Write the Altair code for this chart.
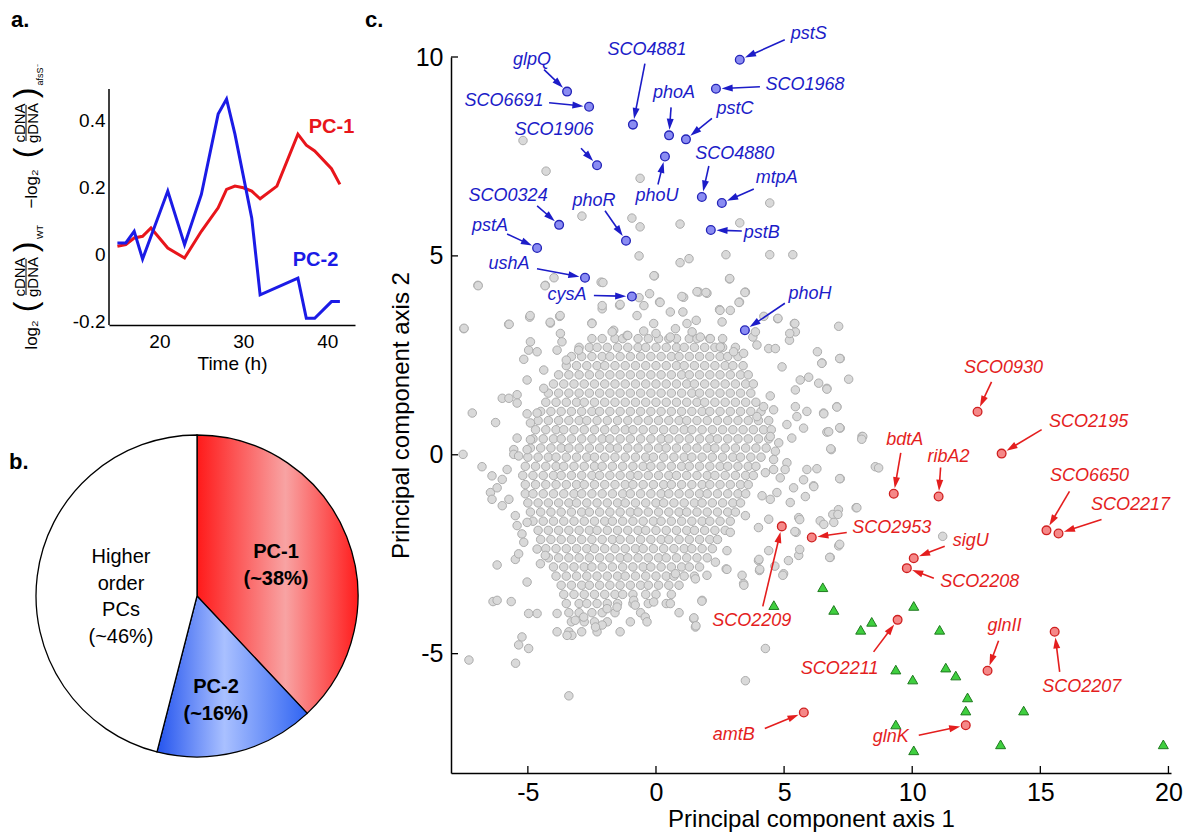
import math
import altair as alt
import pandas as pd

FONT = "Liberation Sans"

# ====================== DATA ======================
# ---- panel a : PC time courses ----
a_time_pc1 = [15, 16, 17, 18, 19, 21, 23, 25, 27, 28, 29, 30, 31, 32, 34, 36.5, 37.5, 38.5, 40.5, 41.5]
a_val_pc1 = [0.025, 0.03, 0.05, 0.055, 0.08, 0.02, -0.01, 0.07, 0.14, 0.195, 0.205, 0.2, 0.19, 0.167,
             0.205, 0.36, 0.327, 0.31, 0.257, 0.21]
a_time_pc2 = [15, 16, 17, 18, 21, 23, 25, 27, 28, 29, 31, 32, 36.5, 37.5, 38.5, 40.5, 41.5]
a_val_pc2 = [0.035, 0.035, 0.07, -0.013, 0.19, 0.03, 0.18, 0.42, 0.465, 0.36, 0.11, -0.12, -0.07,
             -0.19, -0.19, -0.14, -0.14]
a_xticks = [20, 30, 40]
a_yticks = [-0.2, 0, 0.2, 0.4]
a_series_labels = ["PC-1", "PC-2"]
a_label_t = [40.5, 38.6]
a_label_v = [0.382, -0.015]

# ---- panel b : variance explained ----
b_names = ["PC-1", "PC-2", "Higher order PCs"]
b_pct = [38, 16, 46]
b_text = ["PC-1\n(~38%)", "PC-2\n(~16%)", "Higher\norder\nPCs\n(~46%)"]

# ---- panel c : PCA scatter ----
blue_genes = ["pstS", "SCO1968", "glpQ", "SCO6691", "SCO4881", "phoA", "pstC", "SCO1906", "phoU",
              "SCO4880", "mtpA", "SCO0324", "phoR", "pstB", "pstA", "ushA", "cysA", "phoH"]
blue_x = [3.27, 2.34, -3.47, -2.61, -0.90, 0.51, 1.17, -2.30, 0.35, 1.79, 2.57, -3.78, -1.17, 2.14,
          -4.64, -2.77, -0.94, 3.47]
blue_y = [9.93, 9.20, 9.13, 8.75, 8.30, 8.03, 7.93, 7.28, 7.50, 6.48, 6.33, 5.78, 5.38, 5.65, 5.20,
          4.45, 3.98, 3.13]

red_genes = ["SCO0930", "SCO2195", "bdtA", "ribA2", "SCO6650", "SCO2217", "SCO2209", "SCO2953",
             "sigU", "SCO2208", "SCO2211", "glnII", "SCO2207", "amtB", "glnK"]
red_x = [12.55, 13.49, 9.28, 11.03, 15.24, 15.71, 4.91, 6.08, 10.06, 9.79, 9.43, 12.94, 15.56, 5.77, 12.09]
red_y = [1.08, 0.03, -0.98, -1.05, -1.90, -1.98, -1.80, -2.08, -2.60, -2.85, -4.15, -5.43, -4.45,
         -6.48, -6.80]

green_x = [4.60, 6.51, 6.94, 7.99, 8.42, 10.06, 11.07, 9.36, 10.02, 11.31, 11.70, 12.16, 12.09,
           14.35, 9.36, 10.06, 13.45, 19.80]
green_y = [-3.78, -3.33, -3.90, -4.40, -4.20, -3.80, -4.40, -5.40, -5.65, -5.35, -5.55, -6.10, -6.43,
           -6.43, -6.78, -7.43, -7.28, -7.28]

# dense core of the gray cloud, estimated row by row (y, list of x)
gray_core_rows = [
    (2.92, [-2.5, -2.1, -1.6, -1.3, -0.7, -0.3, 0.1, 0.5, 0.8, 1.3, 1.6, 2.1, 2.6]),
    (2.70, [-3.0, -2.6, -2.3, -1.9, -1.5, -1.1, -0.7, -0.4, 0.0, 0.4, 0.8, 1.1, 1.5, 1.9, 2.3, 2.6, 3.1]),
    (2.47, [-3.3, -2.9, -2.5, -2.1, -1.8, -1.4, -1.0, -0.6, -0.2, 0.2, 0.6, 0.9, 1.3, 1.7, 2.1, 2.5, 2.8, 3.2]),
    (2.24, [-3.5, -3.1, -2.7, -2.3, -2.0, -1.6, -1.2, -0.8, -0.4, 0.0, 0.4, 0.8, 1.1, 1.5, 1.9, 2.3, 2.7, 3.0, 3.4]),
    (2.01, [-3.8, -3.4, -3.0, -2.6, -2.2, -1.8, -1.4, -1.0, -0.6, -0.2, 0.2, 0.6, 1.0, 1.3, 1.7, 2.1, 2.5, 2.9, 3.3, 3.6]),
    (1.78, [-4.0, -3.6, -3.2, -2.8, -2.4, -2.0, -1.6, -1.2, -0.8, -0.4, 0.0, 0.4, 0.8, 1.2, 1.5, 1.9, 2.3, 2.7, 3.1, 3.5, 3.8]),
    (1.55, [-4.2, -3.8, -3.4, -3.0, -2.6, -2.2, -1.8, -1.4, -1.0, -0.6, -0.2, 0.2, 0.6, 1.0, 1.4, 1.7, 2.1, 2.5, 2.9, 3.3, 3.7]),
    (1.32, [-4.3, -3.9, -3.5, -3.1, -2.8, -2.4, -2.0, -1.6, -1.2, -0.8, -0.4, 0.0, 0.4, 0.8, 1.2, 1.6, 1.9, 2.3, 2.7, 3.1, 3.5, 3.9]),
    (1.09, [-4.5, -4.1, -3.7, -3.3, -2.9, -2.5, -2.2, -1.8, -1.4, -1.0, -0.6, -0.2, 0.2, 0.6, 1.0, 1.4, 1.8, 2.1, 2.5, 2.9, 3.3, 3.7, 4.1]),
    (0.86, [-4.6, -4.2, -3.8, -3.4, -3.0, -2.7, -2.3, -1.9, -1.5, -1.1, -0.7, -0.3, 0.1, 0.5, 0.9, 1.2, 1.6, 2.0, 2.4, 2.8, 3.2, 3.6, 4.0, 4.4]),
    (0.63, [-4.7, -4.3, -3.9, -3.6, -3.2, -2.8, -2.4, -2.0, -1.6, -1.2, -0.9, -0.5, -0.1, 0.3, 0.7, 1.1, 1.4, 1.8, 2.2, 2.6, 3.0, 3.4, 3.8, 4.2, 4.5]),
    (0.40, [-4.8, -4.4, -4.0, -3.7, -3.3, -2.9, -2.5, -2.1, -1.8, -1.4, -1.0, -0.6, -0.2, 0.2, 0.5, 0.9, 1.3, 1.7, 2.1, 2.4, 2.8, 3.2, 3.6, 4.0, 4.4]),
    (0.17, [-4.9, -4.5, -4.1, -3.7, -3.4, -3.0, -2.6, -2.2, -1.8, -1.5, -1.1, -0.7, -0.3, 0.1, 0.4, 0.8, 1.2, 1.6, 2.0, 2.3, 2.7, 3.1, 3.5, 3.9, 4.3]),
    (-0.06, [-5.0, -4.6, -4.2, -3.9, -3.5, -3.1, -2.7, -2.4, -2.0, -1.6, -1.2, -0.8, -0.4, -0.1, 0.3, 0.7, 1.1, 1.4, 1.8, 2.2, 2.6, 3.0, 3.3, 3.7, 4.1]),
    (-0.29, [-5.1, -4.7, -4.3, -3.9, -3.6, -3.2, -2.8, -2.4, -2.1, -1.7, -1.3, -0.9, -0.5, -0.2, 0.2, 0.6, 1.0, 1.3, 1.7, 2.1, 2.5, 2.8, 3.2, 3.6, 3.9]),
    (-0.52, [-5.2, -4.8, -4.4, -4.0, -3.7, -3.3, -2.9, -2.5, -2.2, -1.8, -1.4, -1.0, -0.7, -0.3, 0.1, 0.5, 0.8, 1.2, 1.6, 2.0, 2.3, 2.7, 3.1, 3.5, 3.8]),
    (-0.75, [-5.1, -4.7, -4.3, -3.9, -3.5, -3.1, -2.8, -2.4, -2.0, -1.6, -1.2, -0.9, -0.5, -0.1, 0.3, 0.6, 1.0, 1.4, 1.8, 2.1, 2.5, 2.9, 3.3, 3.6]),
    (-0.98, [-5.1, -4.8, -4.4, -4.0, -3.6, -3.2, -2.9, -2.5, -2.1, -1.7, -1.3, -1.0, -0.6, -0.2, 0.2, 0.5, 0.9, 1.3, 1.7, 2.0, 2.4, 2.8, 3.2, 3.5]),
    (-1.21, [-5.0, -4.6, -4.2, -3.8, -3.4, -3.1, -2.7, -2.3, -1.9, -1.5, -1.2, -0.8, -0.4, 0.0, 0.3, 0.7, 1.1, 1.5, 1.8, 2.2, 2.6, 3.0, 3.3]),
    (-1.44, [-4.9, -4.5, -4.1, -3.7, -3.3, -2.9, -2.6, -2.2, -1.8, -1.4, -1.0, -0.7, -0.3, 0.1, 0.5, 0.9, 1.2, 1.6, 2.0, 2.4, 2.8, 3.1]),
    (-1.67, [-4.8, -4.4, -4.0, -3.6, -3.2, -2.8, -2.4, -2.0, -1.7, -1.3, -0.9, -0.5, -0.1, 0.2, 0.6, 1.0, 1.4, 1.8, 2.1, 2.5, 2.9]),
    (-1.90, [-4.6, -4.2, -3.8, -3.4, -3.0, -2.6, -2.3, -1.9, -1.5, -1.1, -0.7, -0.4, 0.0, 0.4, 0.8, 1.2, 1.5, 1.9, 2.3, 2.7]),
    (-2.13, [-4.5, -4.1, -3.7, -3.3, -2.9, -2.5, -2.1, -1.7, -1.4, -1.0, -0.6, -0.2, 0.2, 0.5, 0.9, 1.3, 1.7, 2.1, 2.4]),
    (-2.36, [-4.3, -3.9, -3.5, -3.1, -2.7, -2.4, -2.0, -1.6, -1.2, -0.8, -0.5, -0.1, 0.3, 0.7, 1.1, 1.4, 1.8, 2.2]),
    (-2.59, [-4.2, -3.8, -3.4, -3.0, -2.6, -2.2, -1.8, -1.4, -1.1, -0.7, -0.3, 0.1, 0.4, 0.8, 1.2, 1.6, 2.0]),
    (-2.82, [-4.0, -3.6, -3.2, -2.8, -2.5, -2.1, -1.7, -1.3, -0.9, -0.5, -0.2, 0.2, 0.6, 1.0, 1.3, 1.7]),
    (-3.05, [-3.9, -3.5, -3.1, -2.7, -2.3, -1.9, -1.5, -1.2, -0.8, -0.4, 0.0, 0.4, 0.7, 1.1, 1.5]),
    (-3.28, [-3.7, -3.3, -2.9, -2.6, -2.2, -1.8, -1.4, -1.0, -0.6, -0.3, 0.1, 0.5, 0.9]),
    (-3.51, [-3.6, -3.2, -2.8, -2.4, -2.0, -1.6, -1.3, -0.9, -0.4, 0.0, 0.6]),
    (-3.74, [-3.5, -3.0, -2.7, -2.3, -1.9, -1.5, -0.9, -0.3, 0.4]),
    (-3.97, [-3.4, -3.0, -2.5, -2.1, -1.6, -0.6, 0.9]),
    (-4.20, [-3.3, -2.8, -2.4, -1.9, -1.0]),
    (-4.45, [-3.4, -2.9, -2.3, -1.4]),
]

# scattered halo of the gray cloud (x, y)
gray_halo = [
    (-6.95, 4.26), (-7.5, 3.17), (-5.75, 3.28), (-4.93, 3.46), (-4.12, 3.31), (-3.76, 3.48), (-4.32, 4.26),
    (-2.5, 3.31), (-2.14, 4.34), (-2.1, 3.67), (-1.65, 3.13), (-1.42, 3.76), (-0.74, 3.5), (-1.13, 3.0),
    (-0.25, 4.05), (0.14, 3.84), (0.56, 3.59), (-0.06, 4.5), (1.08, 3.96), (1.05, 3.59), (1.67, 4.09),
    (1.99, 4.06), (1.57, 3.38), (2.48, 3.65), (2.9, 3.63), (3.26, 3.84), (3.49, 4.09), (2.87, 4.42),
    (2.58, 3.34), (3.94, 2.76), (4.4, 2.67), (4.75, 3.42), (5.4, 3.3), (5.21, 2.88), (5.44, 3.09),
    (6.3, 2.59), (7.13, 3.23), (7.19, 2.42), (6.48, 2.31), (4.92, 2.21), (4.46, 1.48), (5.44, 1.63),
    (5.63, 1.88), (5.96, 1.95), (6.35, 1.8), (6.67, 1.67), (7.52, 1.9), (5.44, 1.21), (5.89, 1.09),
    (5.5, 0.96), (6.54, 1.05), (7.06, 1.21), (5.11, 0.76), (5.76, 0.67), (6.67, 0.57), (7.19, 0.67),
    (8.04, 0.46), (6.84, 0.13), (5.3, 0.42), (4.79, 0.3), (5.11, -0.2), (5.89, -0.37), (6.28, -0.35),
    (5.76, -0.63), (6.15, -0.78), (7.19, -0.6), (8.56, -0.3), (5.37, -0.83), (5.83, -1.05), (5.24, -1.2),
    (4.72, -0.95), (4.46, -1.12), (4.14, -1.03), (7.81, -1.33), (7.12, -1.38), (6.9, -1.5), (5.57, -1.58),
    (6.41, -1.66), (4.4, -1.62), (4.0, -1.83), (3.49, -1.53), (2.9, -1.95), (5.47, -1.95), (7.13, -2.29),
    (6.8, -2.58), (5.57, -2.53), (5.17, -2.66), (4.98, -2.99), (4.4, -2.41), (4.0, -2.66), (4.04, -2.91),
    (3.36, -3.03), (3.42, -3.24), (2.77, -2.41), (2.74, -2.87), (2.32, -2.7), (1.99, -3.03), (1.54, -3.12),
    (1.8, -3.66), (0.76, -2.99), (0.56, -3.74), (-0.09, -3.7), (-0.42, -4.08), (-0.35, -4.2), (1.47, -4.12),
    (1.54, -4.33), (-0.87, -3.66), (-0.81, -3.78), (-1.52, -3.83), (-1.91, -3.87), (-2.1, -4.28),
    (-2.36, -4.33), (-2.82, -4.08), (-3.15, -4.16), (-3.28, -4.54), (-3.47, -4.54), (-3.86, -4.45),
    (-3.86, -3.99), (-4.64, -3.99), (-4.97, -3.99), (-5.23, -4.58), (-5.36, -4.78), (-4.97, -4.87),
    (-5.48, -5.24), (-5.65, -3.69), (-6.36, -3.69), (-6.2, -3.66), (-7.3, -5.16), (-3.4, -6.06),
    (4.27, -4.87), (3.49, -5.68), (-5.03, -3.2), (-6.2, -2.77), (-5.49, -2.63), (-5.36, -2.49),
    (-4.64, -2.37), (-4.32, -2.53), (-4.51, -2.74), (-5.23, -1.99), (-5.16, -2.2), (-5.49, -1.53),
    (-5.03, -1.7), (-5.42, -1.78), (-6.0, -1.28), (-5.74, -1.12), (-6.46, -0.95), (-6.4, -1.12),
    (-6.2, -0.83), (-6.0, -0.62), (-6.4, -0.53), (-5.81, -0.37), (-6.79, -0.3), (-7.53, 0.01),
    (-5.55, 0.13), (-5.55, 0.01), (-5.36, -0.03), (-5.03, 0.13), (-4.9, 0.38), (-5.42, 0.42),
    (-6.26, 0.81), (-7.17, 1.05), (-5.03, 1.03), (-4.64, 1.05), (-4.9, 0.8), (-6.0, 1.42), (-5.74, 1.42),
    (-5.42, 1.51), (-5.42, 1.3), (-5.03, 1.88), (-4.38, 2.13), (-4.38, 1.67), (-5.16, 2.4), (-4.97, 2.63),
    (-4.64, 2.59), (-4.9, 2.84), (-3.86, 2.63), (-3.5, 2.38), (-3.73, 3.05), (-3.67, 2.84), (-3.02, 2.63),
    (-1.71, 3.09), (-1.1, 3.0), (-0.48, 3.11), (-0.09, 3.3), (0.0, 3.05), (0.56, 2.96), (0.76, 3.17),
    (1.21, 3.3), (1.41, 3.09), (1.73, 2.96), (2.12, 2.92), (2.51, 2.71), (3.03, 2.59), (3.42, 2.55),
    (3.78, 2.96), (3.88, 3.09), (4.66, 2.67), (4.2, 1.21), (3.94, 0.96), (4.59, 1.13), (4.46, 0.46),
    (4.66, 0.09), (4.59, -0.37), (4.27, -0.45), (4.85, -0.58), (4.59, -0.12), (5.04, -0.37),
    (-5.19, 7.9), (-4.29, 7.13), (-0.62, 6.95), (-2.89, 6.0), (-0.94, 5.95), (-0.62, 5.73), (0.94, 5.8),
    (3.27, 5.83), (4.44, 6.33), (-0.66, 5.0), (0.94, 4.83), (1.29, 4.93), (2.73, 5.03), (4.44, 5.03),
    (5.34, 5.03), (2.88, 4.43), (-0.08, 4.5), (-3.98, 4.45), (-4.33, 4.25), (-6.94, 4.25), (-7.49, 3.18),
    (-5.73, 3.28), (-4.91, 3.5), (-4.13, 3.33), (-3.74, 3.5), (-2.5, 3.3), (-2.07, 4.33), (-2.1, 3.75),
    (-1.4, 3.78), (-0.66, 3.95), (-0.47, 3.75), (0.16, 3.83), (1.01, 3.98), (1.6, 4.1), (1.95, 4.08),
    (3.47, 4.08), (3.24, 3.83), (2.5, 3.63), (4.21, 3.48), (4.76, 3.43), (5.42, 3.3), (5.22, 3.05),
    (7.17, 2.42), (6.47, 2.3), (6.67, 1.65), (7.06, 1.2), (6.55, 1.03), (7.17, 0.68), (6.74, 0.58),
    (8.07, 0.46), (8.03, 0.39), (6.82, 0.15), (8.69, -0.33), (7.17, -0.6), (6.16, -0.8), (7.84, -1.33),
    (7.1, -1.5), (6.94, -1.7), (7.17, -2.25), (6.78, -2.58), (11.19, -2.05), (5.61, -2.38), (4.95, -3.03),
    (3.43, -3.28), (1.79, -3.68), (1.48, -4.1), (1.56, -4.3), (4.05, -2.88), (4.64, -2.8), (4.02, -2.63),
    (2.77, -2.88), (5.61, -1.63), (5.42, -1.93), (6.55, -1.75),
]

c_xticks = [-5, 0, 5, 10, 15, 20]
c_yticks = [-5, 0, 5, 10]

# ====================== LAYOUT / STYLE ======================
RED_L, BLUE_L = "#e8151b", "#1b1be6"
BLUE_T, RED_T = "#1c1cc8", "#e41e1e"

# label / arrow-tail offsets in pixels relative to each highlighted point
blue_label_off = [(69, -26), (89, -4), (-35, -32), (-85, -6), (14, -75), (5, -42), (49, -30), (-43, -35),
                  (-8, 40), (33, -43), (55, -25), (-51, -29), (-32, -40), (51, 3), (-47, -22), (-76, -14),
                  (-65, -1), (65, -36)]
blue_tail_off = [(45, -20), (44, -2), (-23, -22), (-40, -4), (12, -61), (2, -28), (26, -21), (-16, -17),
                 (-7, 28), (7, -31), (32, -14), (-22, -19), (-21, -30), (31, 1), (-30, -14), (-48, -9),
                 (-38, -1), (40, -27)]
red_label_off = [(26, -44), (87, -32), (11, -54), (10, -40), (43, -54), (72, -29), (-30, 95), (80, -10),
                 (57, -17), (73, 14), (-58, 49), (17, -45), (27, 55), (-70, 22), (-75, 12)]
red_tail_off = [(14, -30), (40, -24), (7, -41), (2, -29), (23, -39), (43, -14), (-19, 80), (35, -5),
                (31, -12), (27, 10), (-24, 32), (11, -30), (5, 40), (-39, 16), (-47, 10)]

# ====================== PANEL A (+ pie of panel b inside the same view) ======================
A_W = 246
A_PLOT_H = 236          # height of the line-plot area
A_TOP = 32              # empty band above it so the view top lines up with panel c
A_H = A_PLOT_H + A_TOP
Y_LO, Y_HI = -0.21, 0.495
Y_TOP = Y_HI + A_TOP * (Y_HI - Y_LO) / A_PLOT_H
a_xs = alt.Scale(domain=[14, 43.3], nice=False, zero=False)
a_ys = alt.Scale(domain=[Y_LO, Y_TOP], nice=False, zero=False)
a_xaxis = alt.Axis(
    values=a_xticks, title="Time (h)", labelFontSize=19, titleFontSize=19, titleFontWeight="normal",
    ticks=False, tickSize=0, labelPadding=7, titlePadding=3, domainColor="black", domainWidth=1.5,
    labelColor="black", titleColor="black", grid=False, labelFont=FONT, titleFont=FONT)
a_yaxis = alt.Axis(
    values=a_yticks, title="", labelFontSize=19, ticks=False, tickSize=0, labelPadding=4,
    domain=False, labelColor="black", grid=False, labelFont=FONT,
    labelExpr="datum.value == 0 ? '0' : replace(format(datum.value, '.1f'), '\u2212', '-')")


def AX(f):
    return alt.X(f, type="quantitative", scale=a_xs, axis=a_xaxis)


def AY(f):
    return alt.Y(f, type="quantitative", scale=a_ys, axis=a_yaxis)


a_layers = []
# y axis line of panel a (only over the plotted range)
a_layers.append(
    alt.Chart(pd.DataFrame({"lo": [Y_LO], "hi": [Y_HI]})).mark_rule(color="black", strokeWidth=1.5).encode(
        x=alt.value(0), y=AY("lo"), y2="hi:Q")
)
for name, tt, vv, col in [("PC-1", a_time_pc1, a_val_pc1, RED_L), ("PC-2", a_time_pc2, a_val_pc2, BLUE_L)]:
    a_layers.append(
        alt.Chart(pd.DataFrame({"t": tt, "v": vv})).mark_line(strokeWidth=3, color=col).encode(
            x=AX("t"), y=AY("v"))
    )
for name, t0, v0, col in zip(a_series_labels, a_label_t, a_label_v, [RED_L, BLUE_L]):
    a_layers.append(
        alt.Chart(pd.DataFrame({"s": [name], "t": [t0], "v": [v0]})).mark_text(
            fontSize=20, fontWeight="bold", font=FONT, color=col
        ).encode(x=AX("t"), y=AY("v"), text="s:N")
    )

# rotated composite y-axis title (text, x, y, font size), pixels relative to the line-plot top-left
a_title_parts = [
    ("log\u2082", -77, 246, 17), ("(", -83, 218, 32), ("cDNA", -89, 188, 15), ("gDNA", -76, 188, 15),
    (")", -83, 158, 32), ("WT", -69, 143, 9), ("\u2212log\u2082", -77, 100, 17), ("(", -83, 64, 32),
    ("cDNA", -89, 34, 15), ("gDNA", -76, 34, 15), (")", -83, 4, 32), ("afsS\u207b", -69, -14, 9),
]
for txt, px, py, fs in a_title_parts:
    a_layers.append(
        alt.Chart(pd.DataFrame({"t": [txt]})).mark_text(
            angle=270, fontSize=fs, font=FONT, color="black", align="center", baseline="middle",
            fontWeight=300 if txt in ("(", ")") else "normal"
        ).encode(x=alt.value(px), y=alt.value(py + A_TOP), text="t:N")
    )
for y1, y2 in [(170, 206), (16, 52)]:
    a_layers.append(
        alt.Chart(pd.DataFrame({"k": [0]})).mark_rule(color="black", strokeWidth=1).encode(
            x=alt.value(-83), y=alt.value(y1 + A_TOP), y2=alt.value(y2 + A_TOP))
    )

# ---- pie (panel b) ----
R = 161
PIE_CX, PIE_CY = 88, 539          # pie centre, pixels relative to the view's top-left
b_df = pd.DataFrame({"name": b_names, "pct": b_pct, "ord": [0, 1, 2]})
b_base = alt.Chart(b_df).transform_stack(
    stack="pct", as_=["s0", "s1"], groupby=[], sort=[alt.SortField("ord", order="ascending")]
)
theta_sc = alt.Scale(domain=[0, 100])
red_grad = alt.LinearGradient(
    gradient="linear", x1=0, x2=1, y1=0, y2=0,
    stops=[alt.GradientStop(color="#ff1a1a", offset=0), alt.GradientStop(color="#f8a3a3", offset=0.55),
           alt.GradientStop(color="#ff1c1c", offset=1)])
blue_grad = alt.LinearGradient(
    gradient="linear", x1=0, x2=1, y1=0, y2=0,
    stops=[alt.GradientStop(color="#2454ee", offset=0), alt.GradientStop(color="#a9c0ff", offset=0.45),
           alt.GradientStop(color="#3064f2", offset=1)])
fills = {"PC-1": red_grad, "PC-2": blue_grad, "Higher order PCs": "#ffffff"}
for nm in b_names:
    a_layers.append(
        b_base.transform_filter(alt.datum.name == nm).mark_arc(
            outerRadius=R, stroke="black", strokeWidth=1.3, fill=fills[nm]
        ).encode(theta=alt.Theta("s0:Q", scale=theta_sc), theta2=alt.Theta2("s1:Q"),
                 x=alt.value(PIE_CX), y=alt.value(PIE_CY))
    )
# pie labels: first-line position (x, y) and weight
pie_label_pos = [(167, 495, True), (107, 630, True), (12, 500, False)]
for txt, (px, py, bold) in zip(b_text, pie_label_pos):
    a_layers.append(
        alt.Chart(pd.DataFrame({"t": [txt]})).mark_text(
            fontSize=20, font=FONT, fontWeight="bold" if bold else "normal", lineBreak="\n",
            lineHeight=26.5, color="black", align="center", baseline="middle"
        ).encode(x=alt.value(px), y=alt.value(py), text="t:N")
    )
# panel letters a. and b.
for txt, px, py in [("a.", -98, -30), ("b.", -100, 412)]:
    a_layers.append(
        alt.Chart(pd.DataFrame({"t": [txt]})).mark_text(
            fontSize=22, fontWeight="bold", font=FONT, align="left", baseline="alphabetic", color="black"
        ).encode(x=alt.value(px), y=alt.value(py), text="t:N")
    )
panel_a = alt.layer(*a_layers).properties(width=A_W, height=A_H)

# ====================== PANEL C ======================
C_W, C_H = 720, 716
XD, YD = [-8, 20.1], [-8, 10]
XPX = C_W / (XD[1] - XD[0])
YPX = C_H / (YD[1] - YD[0])
xsc = alt.Scale(domain=XD, nice=False, zero=False)
ysc = alt.Scale(domain=YD, nice=False, zero=False)

gx, gy = [], []
for yy, xr in gray_core_rows:
    for xx in xr:
        gx.append(xx)
        gy.append(yy)
for xx, yy in gray_halo:
    gx.append(xx)
    gy.append(yy)
gray_df = pd.DataFrame({"x": gx, "y": gy})

ax_common = dict(labelFontSize=25, titleFontSize=24, titleFontWeight="normal", labelColor="black",
                 titleColor="black", domainColor="black", domainWidth=1.5, ticks=False, tickSize=0,
                 grid=False, labelFont=FONT, titleFont=FONT,
                 labelExpr="replace(datum.label, '\u2212', '-')")
c_xaxis = alt.Axis(values=c_xticks, title="Principal component axis 1", labelPadding=7, titlePadding=2,
                   **ax_common)
c_yaxis = alt.Axis(values=c_yticks, title="Principal component axis 2", labelPadding=8, titlePadding=2,
                   **ax_common)


def XE(f):
    return alt.X(f, type="quantitative", scale=xsc, axis=c_xaxis)


def YE(f):
    return alt.Y(f, type="quantitative", scale=ysc, axis=c_yaxis)


gray = alt.Chart(gray_df).mark_circle(
    size=72, fill="#d9d9d9", stroke="#adadad", strokeWidth=1, opacity=1
).encode(x=XE("x"), y=YE("y"))

green = alt.Chart(pd.DataFrame({"x": green_x, "y": green_y})).mark_point(
    shape="triangle-up", filled=True, size=100, fill="#3fcf3f", stroke="#1f7a1f", strokeWidth=1, opacity=1
).encode(x=XE("x"), y=YE("y"))


def annot(genes, xs, ys, loffs, toffs):
    rows = []
    for g, x, y, (ldx, ldy), (tdx, tdy) in zip(genes, xs, ys, loffs, toffs):
        L = math.hypot(tdx, tdy)
        ux, uy = -tdx / L, -tdy / L
        back = 12.0
        rows.append({
            "gene": g, "x": x, "y": y,
            "lx": x + ldx / XPX, "ly": y - ldy / YPX,
            "tx": x + tdx / XPX, "ty": y - tdy / YPX,
            "hx": x - ux * back / XPX, "hy": y + uy * back / YPX,
            "ang": math.degrees(math.atan2(ux, -uy)) % 360,
        })
    return pd.DataFrame(rows)


c_layers = [gray, green]
groups = [
    (annot(blue_genes, blue_x, blue_y, blue_label_off, blue_tail_off), BLUE_T, "#8a8cf2", "#2323b8"),
    (annot(red_genes, red_x, red_y, red_label_off, red_tail_off), RED_T, "#f58888", "#cf1f1f"),
]
for df, tcol, pfill, pstroke in groups:
    c_layers.append(alt.Chart(df).mark_rule(strokeWidth=1.6, color=tcol).encode(
        x=XE("tx"), y=YE("ty"), x2="hx:Q", y2="hy:Q"))
    c_layers.append(alt.Chart(df).mark_point(
        shape="M0,-1L0.55,0.75L-0.55,0.75Z", filled=True, size=160, opacity=1, strokeWidth=0, color=tcol
    ).encode(x=XE("hx"), y=YE("hy"), angle=alt.Angle("ang:Q", scale=None)))
for df, tcol, pfill, pstroke in groups:
    c_layers.append(alt.Chart(df).mark_circle(
        size=76, fill=pfill, stroke=pstroke, strokeWidth=1.3, opacity=1
    ).encode(x=XE("x"), y=YE("y")))
for df, tcol, pfill, pstroke in groups:
    c_layers.append(alt.Chart(df).mark_text(
        fontSize=18, fontStyle="italic", font=FONT, align="center", baseline="middle", color=tcol
    ).encode(x=XE("lx"), y=YE("ly"), text="gene:N"))

c_layers.append(alt.Chart(pd.DataFrame({"v": c_xticks})).mark_rule(color="black", strokeWidth=1.3).encode(
    x=XE("v"), y=alt.value(C_H), y2=alt.value(C_H - 7)))
c_layers.append(alt.Chart(pd.DataFrame({"v": c_yticks})).mark_rule(color="black", strokeWidth=1.3).encode(
    y=YE("v"), x=alt.value(0), x2=alt.value(7)))
c_layers.append(alt.Chart(pd.DataFrame({"t": ["c."]})).mark_text(
    fontSize=22, fontWeight="bold", font=FONT, align="left", baseline="alphabetic", color="black"
).encode(x=alt.value(-86), y=alt.value(-30), text="t:N"))

panel_c = alt.layer(*c_layers).properties(width=C_W, height=C_H)

# ====================== ASSEMBLE ======================
chart = (
    alt.hconcat(panel_a, panel_c, spacing=2)
    .properties(padding=0)
    .configure(font=FONT)
    .configure_view(stroke="transparent")
)

chart.save("out.html", embed_options={"renderer": "svg", "actions": False})
